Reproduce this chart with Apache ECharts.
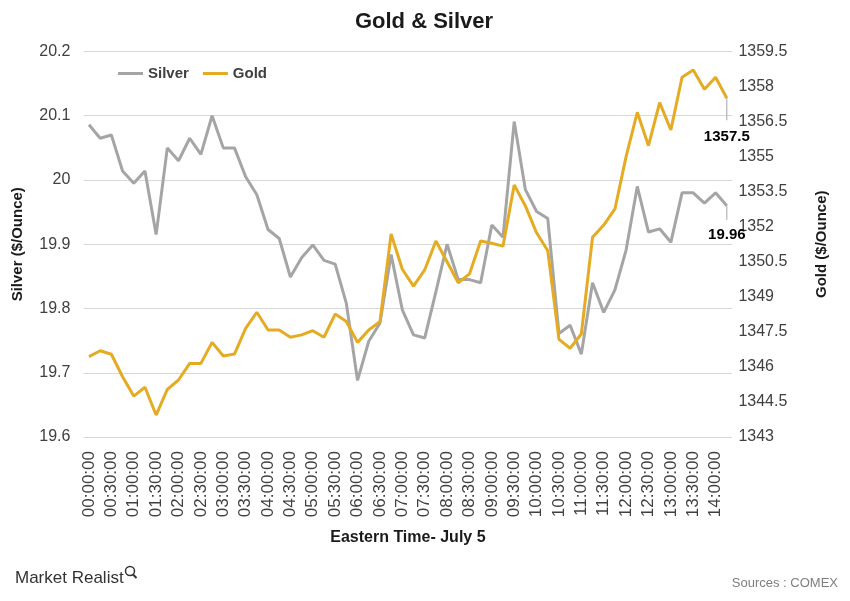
<!DOCTYPE html>
<html>
<head>
<meta charset="utf-8">
<script src="https://cdn.jsdelivr.net/npm/echarts@6/dist/echarts.min.js"></script>
<style>
html,body{margin:0;padding:0;background:#fff;}
#chart{width:850px;height:601px;}
</style>
</head>
<body>
<div id="chart"></div>
<script>
const categories = [
'00:00:00','00:15:00','00:30:00','00:45:00','01:00:00','01:15:00','01:30:00','01:45:00',
'02:00:00','02:15:00','02:30:00','02:45:00','03:00:00','03:15:00','03:30:00','03:45:00',
'04:00:00','04:15:00','04:30:00','04:45:00','05:00:00','05:15:00','05:30:00','05:45:00',
'06:00:00','06:15:00','06:30:00','06:45:00','07:00:00','07:15:00','07:30:00','07:45:00',
'08:00:00','08:15:00','08:30:00','08:45:00','09:00:00','09:15:00','09:30:00','09:45:00',
'10:00:00','10:15:00','10:30:00','10:45:00','11:00:00','11:15:00','11:30:00','11:45:00',
'12:00:00','12:15:00','12:30:00','12:45:00','13:00:00','13:15:00','13:30:00','13:45:00',
'14:00:00','14:15:00'
];
const silver = [
20.086,20.065,20.07,20.014,19.995,20.014,19.915,20.05,
20.03,20.065,20.04,20.1,20.05,20.05,20.005,19.977,
19.923,19.909,19.849,19.879,19.899,19.875,19.869,19.808,
19.688,19.749,19.777,19.884,19.798,19.759,19.754,19.826,
19.9,19.845,19.845,19.84,19.93,19.911,20.091,19.985,
19.951,19.94,19.761,19.774,19.729,19.84,19.794,19.829,
19.891,19.99,19.919,19.924,19.903,19.98,19.98,19.964,
19.98,19.96
];
const gold = [
1346.44,1346.69,1346.54,1345.58,1344.75,1345.13,1343.94,1345.04,
1345.44,1346.15,1346.15,1347.05,1346.47,1346.55,1347.65,1348.34,
1347.58,1347.58,1347.27,1347.37,1347.55,1347.27,1348.26,1347.94,
1347.05,1347.58,1347.94,1351.69,1350.18,1349.46,1350.15,1351.39,
1350.5,1349.6,1349.98,1351.39,1351.29,1351.17,1353.79,1352.89,
1351.74,1350.97,1347.18,1346.8,1347.41,1351.55,1352.07,1352.76,
1355.0,1356.9,1355.47,1357.31,1356.14,1358.4,1358.71,1357.88,
1358.4,1357.5
];
const silverTicks = [19.6,19.7,19.8,19.9,20,20.1,20.2];
const goldTicks = [1343,1344.5,1346,1347.5,1349,1350.5,1352,1353.5,1355,1356.5,1358,1359.5];
const endLabels = {silver: '19.96', gold: '1357.5'};

const FONT = '"Liberation Sans", Arial, sans-serif';
const SILVER_C = '#a5a5a5';
const GOLD_C = '#e5ab22';

function withEndLabel(arr, text, leadLen, textLH) {
  return arr.map((v, i) => {
    if (i !== arr.length - 1) return v;
    return {
      value: v,
      label: {
        show: true, position: 'bottom', distance: 0, align: 'center',
        formatter: '{l|}\n{v|' + text + '}',
        rich: {
          l: {width: 1, height: leadLen, backgroundColor: '#a5a5a5', align: 'center'},
          v: {fontSize: 15, fontWeight: 'bold', color: '#000', fontFamily: FONT, lineHeight: textLH, align: 'center'}
        }
      }
    };
  });
}

const chart = echarts.init(document.getElementById('chart'), null, {renderer: 'canvas'});
chart.setOption({
  animation: false,
  backgroundColor: '#fff',
  textStyle: {fontFamily: FONT},
  title: {
    text: 'Gold & Silver', left: 419, top: 6, textAlign: 'center',
    textStyle: {fontSize: 22, fontWeight: 'bold', color: '#1a1a1a', fontFamily: FONT}
  },
  legend: {
    left: 113, top: 61, itemWidth: 25, itemHeight: 3, itemGap: 14, icon: 'rect',
    textStyle: {fontSize: 15, fontWeight: 'bold', color: '#404040', fontFamily: FONT},
    data: ['Silver', 'Gold']
  },
  grid: {left: 83.4, right: 117.6, top: 51.5, bottom: 164, containLabel: false},
  xAxis: {
    type: 'category', data: categories, boundaryGap: true,
    axisLine: {show: false}, axisTick: {show: false},
    axisLabel: {interval: 1, rotate: 90, fontSize: 17, color: '#404040', margin: 14, fontFamily: FONT},
    name: 'Eastern Time- July 5', nameLocation: 'middle', nameGap: 93,
    nameTextStyle: {fontSize: 16, fontWeight: 'bold', color: '#1a1a1a', fontFamily: FONT}
  },
  yAxis: [
    {
      type: 'value', min: silverTicks[0], max: silverTicks[silverTicks.length - 1], interval: 0.1,
      axisLine: {show: false}, axisTick: {show: false},
      axisLabel: {fontSize: 16, color: '#404040', margin: 13, fontFamily: FONT},
      splitLine: {show: true, lineStyle: {color: '#d9d9d9', width: 1}},
      name: 'Silver ($/Ounce)', nameLocation: 'middle', nameGap: 58, nameRotate: 90,
      nameTextStyle: {fontSize: 15, fontWeight: 'bold', color: '#1a1a1a', fontFamily: FONT}
    },
    {
      type: 'value', min: goldTicks[0], max: goldTicks[goldTicks.length - 1], position: 'right',
      axisLine: {show: false}, axisTick: {show: false},
      axisLabel: {
        customValues: goldTicks, fontSize: 16, color: '#404040', margin: 6, fontFamily: FONT,
        formatter: v => String(v)
      },
      splitLine: {show: false},
      name: 'Gold ($/Ounce)', nameLocation: 'middle', nameGap: 82, nameRotate: 90,
      nameTextStyle: {fontSize: 15, fontWeight: 'bold', color: '#1a1a1a', fontFamily: FONT}
    }
  ],
  series: [
    {
      name: 'Silver', type: 'line', yAxisIndex: 0,
      data: withEndLabel(silver, endLabels.silver, 14, 30),
      showSymbol: true, showAllSymbol: true, symbol: 'circle', symbolSize: 0,
      lineStyle: {color: SILVER_C, width: 3}, itemStyle: {color: SILVER_C},
      z: 2
    },
    {
      name: 'Gold', type: 'line', yAxisIndex: 1,
      data: withEndLabel(gold, endLabels.gold, 22, 33),
      showSymbol: true, showAllSymbol: true, symbol: 'circle', symbolSize: 0,
      lineStyle: {color: GOLD_C, width: 3}, itemStyle: {color: GOLD_C},
      z: 3
    }
  ],
  graphic: [
    {type: 'text', left: 15, top: 570, style: {text: 'Market Realist', fontSize: 17, fill: '#333', fontFamily: FONT}},
    {type: 'circle', shape: {cx: 130, cy: 571, r: 4.5}, style: {fill: 'none', stroke: '#333', lineWidth: 1.5}},
    {type: 'line', shape: {x1: 133, y1: 574.5, x2: 136.5, y2: 578}, style: {stroke: '#333', lineWidth: 2}},
    {type: 'text', right: 12, top: 577, style: {text: 'Sources : COMEX', fontSize: 13, fill: '#7f7f7f', fontFamily: FONT}}
  ]
});
</script>
</body>
</html>
